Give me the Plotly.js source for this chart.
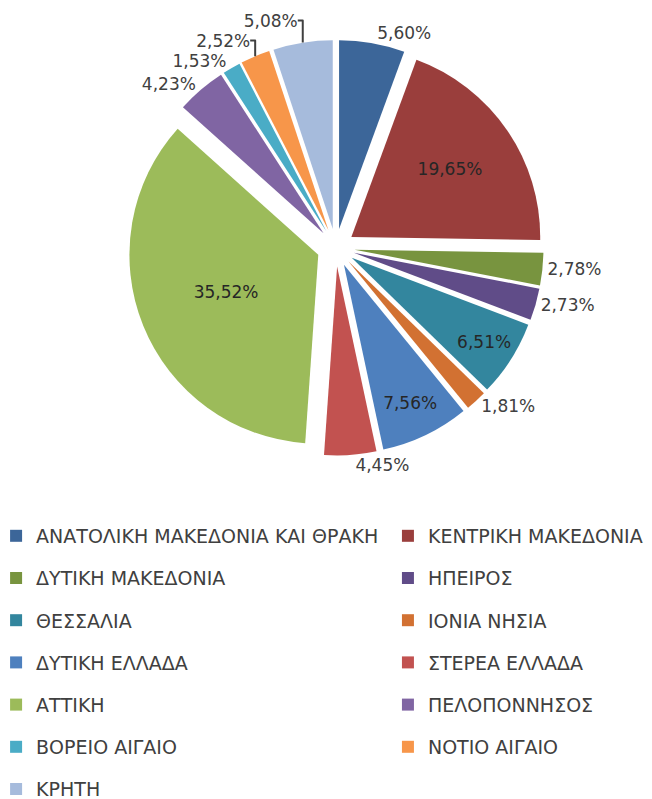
<!DOCTYPE html>
<html>
<head>
<meta charset="utf-8">
<script src="https://cdn.plot.ly/plotly-3.0.1.min.js"></script>
<style>html,body{margin:0;padding:0;background:#fff;}#chart{width:652px;height:799px;}</style>
</head>
<body>
<div id="chart"></div>
<script>
var regions = ["ΑΝΑΤΟΛΙΚΗ ΜΑΚΕΔΟΝΙΑ ΚΑΙ ΘΡΑΚΗ","ΚΕΝΤΡΙΚΗ ΜΑΚΕΔΟΝΙΑ","ΔΥΤΙΚΗ ΜΑΚΕΔΟΝΙΑ","ΗΠΕΙΡΟΣ","ΘΕΣΣΑΛΙΑ","ΙΟΝΙΑ ΝΗΣΙΑ","ΔΥΤΙΚΗ ΕΛΛΑΔΑ","ΣΤΕΡΕΑ ΕΛΛΑΔΑ","ΑΤΤΙΚΗ","ΠΕΛΟΠΟΝΝΗΣΟΣ","ΒΟΡΕΙΟ ΑΙΓΑΙΟ","ΝΟΤΙΟ ΑΙΓΑΙΟ","ΚΡΗΤΗ"];
var shares = [5.60,19.65,2.78,2.73,6.51,1.81,7.56,4.45,35.52,4.23,1.53,2.52,5.08];
var colors = ["#3C6699","#9A3E3C","#78943F","#604C88","#33869E","#D27132","#4E80BE","#C25250","#9CBB5A","#8065A3","#4AACC6","#F7964A","#A6BBDC"];
var positions = ["outside","inside","outside","outside","inside","outside","inside","outside","inside","outside","outside","outside","outside"];

var FONT = "DejaVu Sans, sans-serif";

var pie = {
  type: "pie",
  labels: regions,
  values: shares,
  sort: false,
  direction: "clockwise",
  rotation: 0,
  pull: 0.1,
  showlegend: false,
  marker: {colors: colors, line: {color: "#ffffff", width: 0}},
  texttemplate: "%{value:.2f}%",
  textposition: positions,
  insidetextorientation: "horizontal",
  textfont: {family: FONT, size: 17, color: "#404040"},
  insidetextfont: {family: FONT, size: 17, color: "#262626"},
  outsidetextfont: {family: FONT, size: 17, color: "#404040"},
  domain: {x: [0.115, 0.915], y: [0.43, 0.95]},
  automargin: false,
  hoverinfo: "label+percent"
};

// legend proxies: two columns, filled row by row (left = even index, right = odd index)
var traces = [pie];
regions.forEach(function (name, i) {
  traces.push({
    type: "scatter",
    mode: "markers",
    x: [null],
    y: [null],
    name: name,
    legendgroup: "g" + i,
    legend: (i % 2 === 0) ? "legend" : "legend2",
    marker: {symbol: "square", size: 12, color: colors[i]},
    hoverinfo: "skip",
    showlegend: true
  });
});

var legendCommon = {
  orientation: "v",
  xanchor: "left",
  yanchor: "top",
  traceorder: "grouped",
  tracegroupgap: 14.5,
  itemwidth: 30,
  bgcolor: "rgba(0,0,0,0)",
  font: {family: FONT, size: 19, color: "#404040"}
};

var layout = {
  width: 652,
  height: 799,
  margin: {l: 0, r: 0, t: 0, b: 0, autoexpand: false},
  paper_bgcolor: "#ffffff",
  plot_bgcolor: "#ffffff",
  separators: ",.",
  showlegend: true,
  xaxis: {visible: false},
  yaxis: {visible: false},
  legend: Object.assign({}, legendCommon, {x: -0.006, y: 0.353}),
  legend2: Object.assign({}, legendCommon, {x: 0.595, y: 0.353}),
  font: {family: FONT, color: "#404040"}
};

Plotly.newPlot("chart", traces, layout, {displayModeBar: false, staticPlot: true});
</script>
</body>
</html>
